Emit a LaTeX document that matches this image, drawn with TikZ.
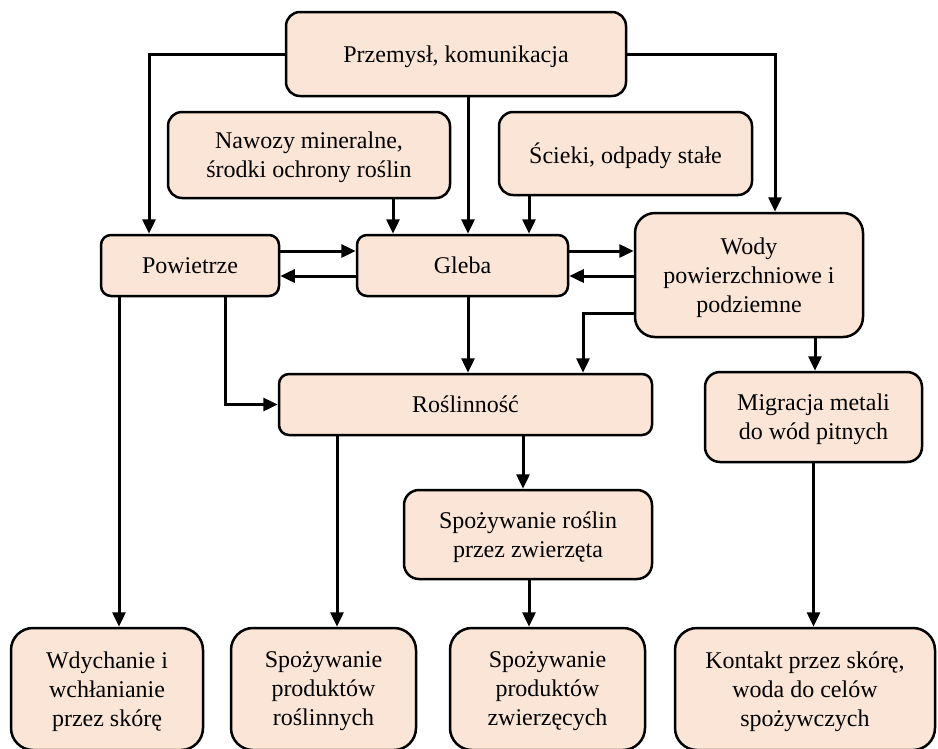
\documentclass[tikz,border=0pt]{standalone}
\usepackage{fontspec}
\setmainfont{Liberation Serif}
\usetikzlibrary{arrows.meta}
\definecolor{boxfill}{HTML}{FBE5D6}
\begin{document}
\begin{tikzpicture}[x=1pt,y=-1pt,
  box/.style={draw=black, line width=2.5pt, fill=boxfill, rectangle,
    inner sep=0pt, text depth=0pt, align=center, font=\fontsize{24}{29}\selectfont},
  arr/.style={draw=black, line width=3pt, -{Triangle[length=14.5pt,width=13pt]}}]
\useasboundingbox (0,0) rectangle (938,748);
\clip (0,0) rectangle (938,748);
\fill[white] (0,0) rectangle (938,748);

% source boxes
\node[box, minimum width=340pt, minimum height=84pt, rounded corners=14pt] (top) at (456,54) {Przemysł, komunikacja};
\node[box, minimum width=282pt, minimum height=86pt, rounded corners=14pt] (nawozy) at (309,155) {Nawozy mineralne,\\środki ochrony roślin};
\node[box, minimum width=253pt, minimum height=83pt, rounded corners=14pt] (scieki) at (625.5,153.5) {Ścieki, odpady stałe};

% environment
\node[box, minimum width=178pt, minimum height=61pt, rounded corners=10pt] (powietrze) at (190,265.5) {Powietrze};
\node[box, minimum width=211pt, minimum height=61pt, rounded corners=10pt] (gleba) at (462.5,265.5) {Gleba};
\node[box, minimum width=228pt, minimum height=124pt, rounded corners=20pt] (wody) at (749,275) {Wody\\powierzchniowe i\\podziemne};

% intermediate
\node[box, minimum width=373pt, minimum height=61pt, rounded corners=10pt] (roslinnosc) at (465.5,404.5) {Roślinność};
\node[box, minimum width=217pt, minimum height=90pt, rounded corners=15pt] (migracja) at (813.5,417) {Migracja metali\\do wód pitnych};
\node[box, minimum width=248pt, minimum height=89pt, rounded corners=15pt] (spoz) at (528,534.5) {Spożywanie roślin\\przez zwierzęta};

% exposure routes
\node[box, minimum width=192pt, minimum height=122pt, rounded corners=22pt] (wdych) at (107,689) {Wdychanie i\\wchłanianie\\przez skórę};
\node[box, minimum width=185pt, minimum height=122pt, rounded corners=22pt] (prodros) at (323.5,689) {Spożywanie\\produktów\\roślinnych};
\node[box, minimum width=195pt, minimum height=122pt, rounded corners=22pt] (prodzw) at (547.5,689) {Spożywanie\\produktów\\zwierzęcych};
\node[box, minimum width=260pt, minimum height=122pt, rounded corners=22pt] (kontakt) at (805,689) {Kontakt przez skórę,\\woda do celów\\spożywczych};

% connectors from sources
\draw[arr] (top.west) -| ([xshift=-41pt]powietrze.north);
\draw[arr] (top.east) -| ([xshift=26pt]wody.north);
\draw[arr] ([xshift=12pt]top.south) -- ([xshift=12pt]top.south |- gleba.north);
\draw[arr] ([xshift=84pt]nawozy.south) -- ([xshift=84pt]nawozy.south |- gleba.north);
\draw[arr] ([xshift=-96.5pt]scieki.south) -- ([xshift=-96.5pt]scieki.south |- gleba.north);

% exchanges between media
\draw[arr] ([yshift=14.5pt]powietrze.east) -- ([yshift=14.5pt]powietrze.east -| gleba.west);
\draw[arr] ([yshift=-10.5pt]gleba.west) -- ([yshift=-10.5pt]gleba.west -| powietrze.east);
\draw[arr] ([yshift=14.5pt]gleba.east) -- ([yshift=14.5pt]gleba.east -| wody.west);
\draw[arr] ([yshift=-10.5pt]gleba.east -| wody.west) -- ([yshift=-10.5pt]gleba.east);

% transfer to vegetation and water
\draw[arr] ([xshift=5.5pt]gleba.south) -- ([xshift=5.5pt]gleba.south |- roslinnosc.north);
\draw[arr] ([yshift=-38pt]wody.west) -| ([xshift=117.5pt]roslinnosc.north);
\draw[arr] ([xshift=35pt]powietrze.south) |- (roslinnosc.west);
\draw[arr] ([xshift=66pt]wody.south) -- ([xshift=66pt]wody.south |- migracja.north);

% exposure connectors
\draw[arr] ([xshift=-71pt]powietrze.south) -- ([xshift=-71pt]powietrze.south |- wdych.north);
\draw[arr] ([xshift=-128.5pt]roslinnosc.south) -- ([xshift=-128.5pt]roslinnosc.south |- prodros.north);
\draw[arr] ([xshift=57.5pt]roslinnosc.south) -- ([xshift=57.5pt]roslinnosc.south |- spoz.north);
\draw[arr] ([xshift=1pt]spoz.south) -- ([xshift=1pt]spoz.south |- prodzw.north);
\draw[arr] (migracja.south) -- (migracja.south |- kontakt.north);
\end{tikzpicture}
\end{document}
